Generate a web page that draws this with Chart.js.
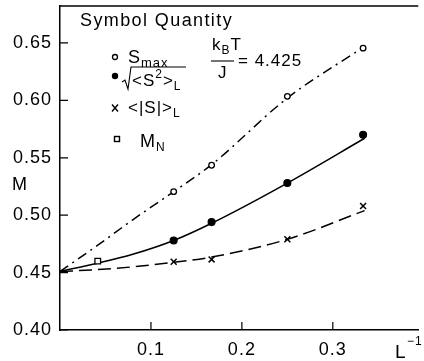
<!DOCTYPE html>
<html>
<head>
<meta charset="utf-8">
<script src="https://cdn.jsdelivr.net/npm/chart.js@4"></script>
<style>
  html, body { margin: 0; padding: 0; background: #fff; }
  #wrap { width: 424px; height: 361px; }
</style>
</head>
<body>
<div id="wrap"><canvas id="mag-chart"></canvas></div>
<script>
///// data /////
const invL = [0.125, 0.1667, 0.25, 0.3333];
const sMax = [0.5205, 0.5435, 0.6035, 0.6455];
const sRms = [0.478, 0.494, 0.528, 0.570];
const sAbs = [0.4595, 0.4615, 0.479, 0.508];
const mNx = [0.0415];
const mN = [0.460];

// fitted curves as drawn
const curveX = [0, 0.04, 0.08, 0.125, 0.1667, 0.25, 0.335];
const sMaxCurve = [0.451, 0.473, 0.496, 0.5205, 0.544, 0.602, 0.647];
const sRmsCurve = [0.451, 0.458, 0.466, 0.478, 0.493, 0.528, 0.567];
const sAbsCurve = [0.451, 0.4525, 0.455, 0.459, 0.4635, 0.479, 0.504];

const xTicks = [0.1, 0.2, 0.3];
const yTicks = [0.40, 0.45, 0.50, 0.55, 0.60, 0.65];

const FONT = '"Liberation Sans", Arial, Helvetica, sans-serif';

const pts = (xs, ys) => xs.map((x, i) => ({ x: x, y: ys[i] }));

function txt(ctx, s, x, y, size) {
  ctx.font = size + 'px ' + FONT;
  ctx.fillText(s, x, y);
  return x + ctx.measureText(s).width;
}

///// overlay: frame, inside ticks, axis labels, legend /////
const overlay = {
  id: 'overlay',
  beforeDraw(chart) {
    chart.ctx.letterSpacing = '1px';
  },
  afterDraw(chart) {
    const ctx = chart.ctx;
    const xs = chart.scales.x, ys = chart.scales.y;
    const a = chart.chartArea;
    ctx.save();
    ctx.strokeStyle = '#000';
    ctx.fillStyle = '#000';
    ctx.lineWidth = 1.5;
    // top frame line
    ctx.beginPath();
    ctx.moveTo(a.left, a.top);
    ctx.lineTo(a.right, a.top);
    ctx.stroke();
    // inside ticks
    ctx.lineWidth = 1.2;
    ctx.beginPath();
    yTicks.forEach(v => {
      const py = ys.getPixelForValue(v);
      ctx.moveTo(a.left, py);
      ctx.lineTo(a.left + 8, py);
    });
    xTicks.forEach(v => {
      const px = xs.getPixelForValue(v);
      ctx.moveTo(px, a.bottom);
      ctx.lineTo(px, a.bottom - 8);
    });
    ctx.stroke();

    ctx.textBaseline = 'alphabetic';
    ctx.textAlign = 'left';
    ctx.letterSpacing = '1px';
    // axis labels
    txt(ctx, 'M', 12, 190, 18);
    txt(ctx, 'L', 395, 358, 19);
    txt(ctx, '\u22121', 407, 345, 12);

    // legend
    ctx.letterSpacing = '1.4px';
    txt(ctx, 'Symbol Quantity', 80, 26, 18);
    ctx.letterSpacing = '1px';
    ctx.lineWidth = 1.3;
    // open circle row
    ctx.beginPath(); ctx.arc(115, 57, 2.5, 0, Math.PI * 2);
    ctx.fillStyle = '#fff'; ctx.fill(); ctx.stroke();
    ctx.fillStyle = '#000';
    let x = txt(ctx, 'S', 128, 63, 18);
    txt(ctx, 'max', x, 67, 13);
    // filled circle row
    ctx.beginPath(); ctx.arc(115, 76, 3.2, 0, Math.PI * 2); ctx.fill();
    ctx.lineWidth = 1.1;
    ctx.beginPath();
    ctx.moveTo(122, 82); ctx.lineTo(125, 80); ctx.lineTo(128, 89);
    ctx.lineTo(131, 67); ctx.lineTo(186, 67);
    ctx.stroke();
    x = txt(ctx, '<S', 132, 86, 17);
    x = txt(ctx, '2', x, 78, 12);
    x = txt(ctx, '>', x, 86, 17);
    txt(ctx, 'L', x, 90, 12);
    // cross row
    ctx.lineWidth = 1.4;
    ctx.beginPath();
    ctx.moveTo(112, 104.5); ctx.lineTo(118, 111.5);
    ctx.moveTo(118, 104.5); ctx.lineTo(112, 111.5);
    ctx.stroke();
    x = txt(ctx, '<|S|>', 128, 113, 17);
    txt(ctx, 'L', x, 117, 12);
    // square row
    ctx.strokeRect(114.5, 136.5, 5, 5);
    x = txt(ctx, 'M', 140, 147, 18);
    txt(ctx, 'N', x, 151, 12);
    // kBT / J = 4.425
    x = txt(ctx, 'k', 212, 50, 17);
    x = txt(ctx, 'B', x, 54, 12);
    txt(ctx, 'T', x, 50, 17);
    ctx.lineWidth = 1.1;
    ctx.beginPath(); ctx.moveTo(211, 61); ctx.lineTo(234, 61); ctx.stroke();
    txt(ctx, 'J', 218, 78, 17);
    txt(ctx, '= 4.425', 238, 66, 17);
    ctx.restore();
  }
};

const markerBase = { showLine: false, borderColor: '#000', borderWidth: 1.3 };
const curveBase = { showLine: true, pointRadius: 0, borderColor: '#000', borderWidth: 1.5,
  cubicInterpolationMode: 'monotone', fill: false };

const data = {
  datasets: [
    Object.assign({ label: 'S_max', data: pts(invL, sMax), pointStyle: 'circle',
      pointRadius: 2.8, backgroundColor: '#fff' }, markerBase),
    Object.assign({ label: 'rms', data: pts(invL, sRms), pointStyle: 'circle',
      pointRadius: 3.4, backgroundColor: '#000' }, markerBase),
    Object.assign({ label: 'abs', data: pts(invL, sAbs), pointStyle: 'crossRot',
      pointRadius: 4.2, backgroundColor: '#000', borderWidth: 1.5 }, { showLine: false, borderColor: '#000' }),
    Object.assign({ label: 'M_N', data: pts(mNx, mN), pointStyle: 'rect',
      pointRadius: 4, backgroundColor: '#fff' }, markerBase),
    Object.assign({ label: 'S_max fit', data: pts(curveX, sMaxCurve), borderDash: [10, 5, 2, 5] }, curveBase),
    Object.assign({ label: 'rms fit', data: pts(curveX, sRmsCurve) }, curveBase),
    Object.assign({ label: 'abs fit', data: pts(curveX, sAbsCurve), borderDash: [13, 6] }, curveBase)
  ]
};

const config = {
  type: 'scatter',
  data,
  options: {
    responsive: true,
    maintainAspectRatio: false,
    animation: false,
    events: [],
    layout: { padding: { top: 6, right: 0, left: 0, bottom: 0 } },
    plugins: { legend: { display: false }, tooltip: { enabled: false } },
    scales: {
      x: {
        type: 'linear',
        min: 0,
        max: 0.394,
        afterBuildTicks: s => { s.ticks = xTicks.map(v => ({ value: v })); },
        afterFit: s => { s.height = 31; s.paddingLeft = 0; s.paddingRight = 0; },
        grid: { display: false, drawTicks: false },
        border: { display: true, color: '#000', width: 1.5 },
        ticks: { color: '#000', padding: 9, font: { family: FONT, size: 18 },
          callback: v => v.toFixed(1) }
      },
      y: {
        type: 'linear',
        min: 0.40,
        max: 0.6822,
        afterBuildTicks: s => { s.ticks = yTicks.map(v => ({ value: v })); },
        afterFit: s => { s.width = 60; s.paddingTop = 0; s.paddingBottom = 0; },
        grid: { display: false, drawTicks: false },
        border: { display: true, color: '#000', width: 1.5 },
        ticks: { color: '#000', padding: 8, font: { family: FONT, size: 18 },
          callback: v => v.toFixed(2) }
      }
    }
  },
  plugins: [overlay]
};

let magChart = new Chart(document.getElementById('mag-chart'), config);
</script>
</body>
</html>
